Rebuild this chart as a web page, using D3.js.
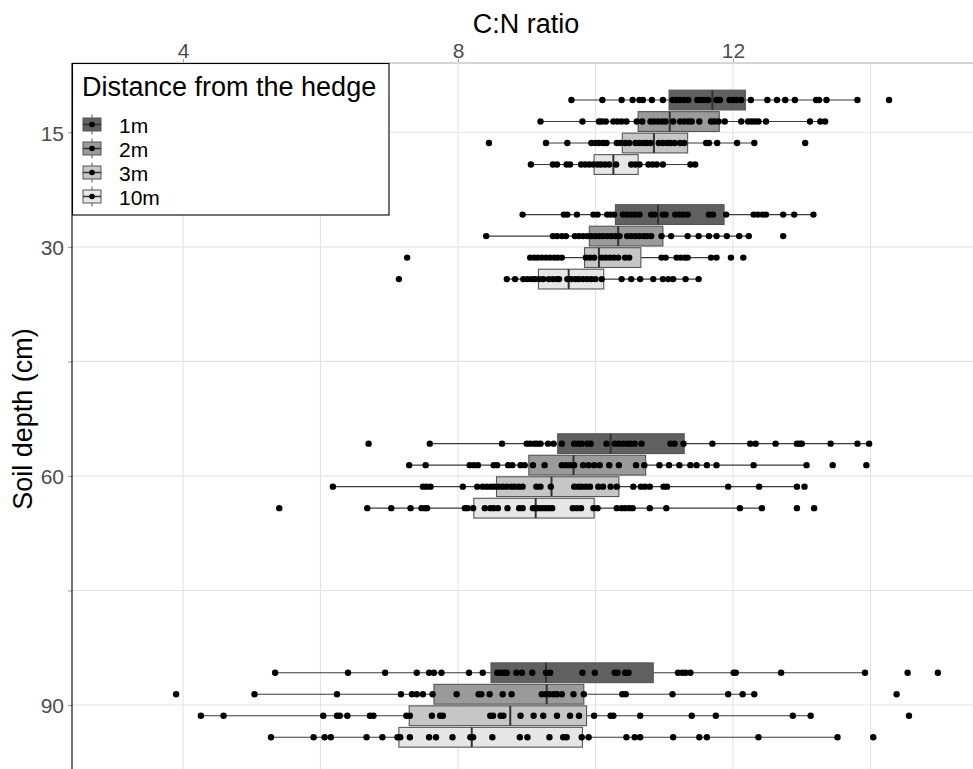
<!DOCTYPE html>
<html>
<head>
<meta charset="utf-8">
<script src="https://cdn.jsdelivr.net/npm/d3@7"></script>
<style>
    body { margin: 0; background: #fff; }
    text { font-family: "Liberation Sans", Arial, sans-serif; }
</style>
</head>
<body>
<div id="chart"></div>
<script>

// soil depths (cm) and distance groups
var depths = [15, 30, 60, 90];
var distances = ["1m", "2m", "3m", "10m"];
var fills = ["#606060", "#9a9a9a", "#c6c6c6", "#e6e6e6"];

// box statistics, rows = depth, columns = distance
var q1 = [[11.07, 10.62, 10.39, 9.98], [10.29, 9.91, 9.84, 9.17], [9.45, 9.03, 8.56, 8.23], [8.48, 7.65, 7.29, 7.14]];
var medians = [[11.70, 11.08, 10.85, 10.26], [10.91, 10.33, 10.05, 9.61], [10.22, 9.68, 9.36, 9.13], [9.28, 9.29, 8.76, 8.20]];
var q3 = [[12.18, 11.80, 11.34, 10.62], [11.87, 10.98, 10.66, 10.12], [11.29, 10.73, 10.34, 9.98], [10.84, 9.83, 9.87, 9.81]];
var whiskerLo = [[9.65, 9.20, 9.28, 9.06], [8.94, 8.41, 9.05, 8.71], [7.59, 7.29, 6.18, 6.68], [5.34, 5.04, 4.26, 5.28]];
var whiskerHi = [[13.81, 13.34, 12.31, 11.45], [13.17, 12.23, 11.76, 11.50], [13.98, 13.07, 12.93, 12.42], [13.92, 12.31, 13.13, 13.52]];

// raw C:N observations per depth, one list per distance
var pts15 = [
    [9.65, 10.10, 10.38, 10.54, 10.64, 10.69, 10.82, 10.98, 11.12, 11.18, 11.23, 11.29, 11.35, 11.48, 11.53, 11.58, 11.64, 11.76, 11.81, 11.95, 12.00, 12.05, 12.12, 12.26, 12.50, 12.64, 12.76, 12.90, 13.21, 13.25, 13.36, 13.81, 14.27],
    [9.20, 9.81, 10.05, 10.09, 10.15, 10.26, 10.32, 10.38, 10.45, 10.60, 10.68, 10.80, 10.85, 10.91, 10.97, 11.02, 11.13, 11.23, 11.29, 11.35, 11.40, 11.51, 11.68, 11.73, 11.79, 11.88, 12.12, 12.22, 12.27, 12.32, 12.37, 12.48, 13.12, 13.27, 13.34],
    [8.45, 9.28, 9.59, 9.94, 10.00, 10.05, 10.11, 10.16, 10.31, 10.36, 10.43, 10.49, 10.58, 10.64, 10.70, 10.74, 10.80, 10.92, 10.98, 11.04, 11.09, 11.15, 11.23, 11.29, 11.61, 11.65, 11.77, 12.06, 12.31, 13.05],
    [9.06, 9.38, 9.44, 9.58, 9.63, 9.79, 9.85, 9.91, 9.97, 10.03, 10.08, 10.14, 10.20, 10.30, 10.52, 10.58, 10.64, 10.77, 10.83, 10.89, 10.98, 11.38, 11.45]
];
var pts30 = [
    [8.94, 9.54, 9.59, 9.73, 9.97, 10.03, 10.17, 10.22, 10.27, 10.40, 10.46, 10.52, 10.58, 10.64, 10.81, 10.86, 10.98, 11.02, 11.16, 11.22, 11.28, 11.34, 11.65, 11.71, 11.90, 12.30, 12.36, 12.43, 12.48, 12.73, 12.89, 13.17],
    [8.41, 9.38, 9.44, 9.51, 9.57, 9.70, 9.76, 9.82, 9.88, 9.94, 10.00, 10.06, 10.11, 10.17, 10.23, 10.29, 10.35, 10.46, 10.52, 10.58, 10.64, 10.70, 10.75, 10.81, 10.96, 11.10, 11.34, 11.50, 11.65, 11.76, 11.91, 12.09, 12.23, 12.73],
    [7.26, 9.05, 9.11, 9.16, 9.22, 9.28, 9.34, 9.40, 9.45, 9.51, 9.86, 9.92, 9.98, 10.09, 10.15, 10.21, 10.27, 10.33, 10.43, 10.49, 10.96, 11.02, 11.18, 11.24, 11.30, 11.34, 11.68, 11.76, 11.97, 12.15],
    [7.14, 8.71, 8.83, 8.95, 9.01, 9.07, 9.12, 9.18, 9.24, 9.32, 9.38, 9.44, 9.47, 9.59, 9.65, 9.71, 9.76, 9.82, 9.88, 9.94, 10.00, 10.09, 10.38, 10.52, 10.65, 10.84, 10.98, 11.06, 11.13, 11.31, 11.50]
];
var pts60 = [
    [6.70, 7.59, 8.64, 9.00, 9.05, 9.11, 9.15, 9.20, 9.31, 9.39, 9.51, 9.69, 9.75, 9.80, 9.88, 9.93, 10.16, 10.28, 10.34, 10.40, 10.46, 10.51, 10.57, 10.67, 11.09, 11.15, 11.28, 11.70, 12.25, 12.33, 12.62, 12.93, 12.97, 13.00, 13.42, 13.81, 13.98],
    [7.29, 7.53, 8.17, 8.23, 8.29, 8.52, 8.57, 8.73, 8.79, 8.91, 8.97, 9.09, 9.26, 9.51, 9.57, 9.63, 9.69, 9.82, 9.90, 9.98, 10.06, 10.20, 10.34, 10.59, 10.71, 10.93, 11.07, 11.22, 11.38, 11.47, 11.62, 11.76, 12.30, 13.07, 13.45, 13.94],
    [6.18, 7.49, 7.54, 7.60, 8.07, 8.28, 8.36, 8.42, 8.48, 8.53, 8.59, 8.65, 8.71, 8.77, 8.82, 8.88, 8.94, 9.14, 9.20, 9.35, 9.69, 9.75, 9.80, 9.86, 9.92, 10.04, 10.11, 10.22, 10.31, 10.55, 10.66, 10.72, 10.79, 10.99, 11.04, 11.93, 12.38, 12.93, 13.04],
    [5.40, 6.68, 7.03, 7.31, 7.47, 7.52, 7.55, 8.10, 8.14, 8.22, 8.39, 8.47, 8.52, 8.58, 8.72, 8.89, 8.94, 9.09, 9.13, 9.17, 9.22, 9.27, 9.32, 9.37, 9.67, 9.73, 9.79, 9.97, 10.03, 10.31, 10.38, 10.43, 10.49, 10.54, 10.79, 11.03, 12.10, 12.42, 12.93, 13.18]
];
var pts90 = [
    [5.34, 6.40, 6.94, 7.40, 7.58, 7.65, 7.76, 8.16, 8.36, 8.57, 8.62, 8.67, 8.71, 8.85, 8.93, 9.08, 9.28, 9.34, 9.81, 9.99, 10.28, 10.32, 10.43, 10.48, 11.20, 11.26, 11.31, 11.38, 12.01, 12.04, 12.70, 13.92, 14.54, 14.98],
    [3.90, 5.04, 6.24, 7.17, 7.33, 7.40, 7.49, 7.63, 7.98, 8.30, 8.34, 8.46, 8.65, 8.78, 9.22, 9.28, 9.33, 9.39, 9.44, 9.51, 9.68, 9.83, 10.39, 10.44, 11.12, 11.93, 12.14, 12.31, 14.38],
    [4.26, 4.59, 6.04, 6.24, 6.28, 6.39, 6.72, 6.77, 7.25, 7.30, 7.62, 7.74, 7.78, 8.47, 8.51, 8.62, 8.66, 8.91, 9.10, 9.24, 9.44, 9.63, 9.76, 9.98, 10.22, 10.26, 10.65, 11.40, 11.75, 12.87, 13.13, 14.56],
    [5.28, 5.90, 6.06, 6.15, 6.67, 6.90, 7.12, 7.16, 7.30, 7.58, 7.68, 7.92, 8.18, 8.22, 8.50, 8.90, 9.01, 9.33, 9.53, 9.58, 9.80, 9.90, 10.45, 10.57, 10.65, 11.13, 11.51, 11.62, 12.37, 13.52, 14.04]
];
var allPoints = [pts15, pts30, pts60, pts90];

var xTicks = [4, 8, 12];
var xGrid = [4, 6, 8, 10, 12, 14];
var yTicks = [15, 30, 45, 60, 75, 90];
var yLabelled = [15, 30, 60, 90];

var width = 973, height = 769;
var panel = { left: 72, top: 63, right: 973, bottom: 769 };

var svg = d3.select("#chart")
    .append("svg")
    .attr("width", width)
    .attr("height", height);

var x = d3.scaleLinear().domain([4, 12]).range([183, 733]);
var y = d3.scaleLinear().domain([15, 90]).range([132.3, 705]);

// dodge the four distance groups around each depth
var dodge = d3.scaleBand()
    .domain(distances)
    .range([-43, 43])
    .paddingInner(0.08)
    .paddingOuter(0.04);

// grid
var grid = svg.append("g").attr("class", "grid");

grid.selectAll(".vgrid")
    .data(xGrid)
    .enter().append("line")
    .attr("x1", function(d) { return x(d); })
    .attr("x2", function(d) { return x(d); })
    .attr("y1", panel.top)
    .attr("y2", panel.bottom)
    .attr("stroke", "#e3e3e3")
    .attr("stroke-width", 1.1);

grid.selectAll(".hgrid")
    .data(yTicks)
    .enter().append("line")
    .attr("x1", panel.left)
    .attr("x2", panel.right)
    .attr("y1", function(d) { return y(d); })
    .attr("y2", function(d) { return y(d); })
    .attr("stroke", "#e3e3e3")
    .attr("stroke-width", 1.1);

// flatten into one record per box
var boxes = [];
depths.forEach(function(dep, i) {
    distances.forEach(function(dist, j) {
        boxes.push({
            depth: dep, dist: dist, fill: fills[j],
            q1: q1[i][j], med: medians[i][j], q3: q3[i][j],
            lo: whiskerLo[i][j], hi: whiskerHi[i][j],
            pts: allPoints[i][j]
        });
    });
});

function cy(d) { return y(d.depth) + dodge(d.dist) + dodge.bandwidth() / 2; }

var box = svg.selectAll(".box")
    .data(boxes)
    .enter().append("g")
    .attr("class", "box");

// whiskers
box.append("line")
    .attr("x1", function(d) { return x(d.lo); })
    .attr("x2", function(d) { return x(d.q1); })
    .attr("y1", cy).attr("y2", cy)
    .attr("stroke", "#3a3a3a").attr("stroke-width", 1.1);

box.append("line")
    .attr("x1", function(d) { return x(d.q3); })
    .attr("x2", function(d) { return x(d.hi); })
    .attr("y1", cy).attr("y2", cy)
    .attr("stroke", "#3a3a3a").attr("stroke-width", 1.1);

box.append("rect")
    .attr("x", function(d) { return x(d.q1); })
    .attr("width", function(d) { return x(d.q3) - x(d.q1); })
    .attr("y", function(d) { return y(d.depth) + dodge(d.dist); })
    .attr("height", dodge.bandwidth())
    .attr("fill", function(d) { return d.fill; })
    .attr("stroke", "#555")
    .attr("stroke-width", 1.1);

box.append("line")
    .attr("x1", function(d) { return x(d.med); })
    .attr("x2", function(d) { return x(d.med); })
    .attr("y1", function(d) { return y(d.depth) + dodge(d.dist); })
    .attr("y2", function(d) { return y(d.depth) + dodge(d.dist) + dodge.bandwidth(); })
    .attr("stroke", "#333")
    .attr("stroke-width", 2);

// observations on top
box.selectAll("circle")
    .data(function(d) { return d.pts.map(function(v) { return { v: v, b: d }; }); })
    .enter().append("circle")
    .attr("cx", function(p) { return x(p.v); })
    .attr("cy", function(p) { return cy(p.b); })
    .attr("r", 3.2)
    .attr("fill", "#000");

// axes
var xAxis = svg.append("g")
    .attr("transform", "translate(0," + panel.top + ")")
    .call(d3.axisTop(x).tickValues(xTicks).tickSize(4).tickPadding(1.5));

var yAxis = svg.append("g")
    .attr("transform", "translate(" + panel.left + ",0)")
    .call(d3.axisLeft(y).tickValues(yTicks).tickSize(4).tickPadding(4)
        .tickFormat(function(d) { return yLabelled.indexOf(d) >= 0 ? d : ""; }));

[xAxis, yAxis].forEach(function(a) {
    a.select(".domain").remove();
    a.selectAll(".tick line").attr("stroke", "#a0a0a0").attr("stroke-width", 1.1);
    a.selectAll(".tick text")
        .attr("fill", "#4d4d4d")
        .style("font-size", "21px")
        .style("font-family", "'Liberation Sans', Arial, sans-serif");
});
yAxis.selectAll(".tick text").attr("dy", "0.37em");

svg.append("line")
    .attr("x1", panel.left).attr("x2", panel.right)
    .attr("y1", panel.top).attr("y2", panel.top)
    .attr("stroke", "#d6d6d6").attr("stroke-width", 2);

svg.append("line")
    .attr("x1", panel.left).attr("x2", panel.left)
    .attr("y1", panel.top).attr("y2", panel.bottom)
    .attr("stroke", "#000").attr("stroke-width", 1.1);

// axis titles
svg.append("text")
    .attr("x", 526).attr("y", 33)
    .attr("text-anchor", "middle")
    .style("font-size", "27px")
    .text("C:N ratio");

svg.append("text")
    .attr("transform", "translate(32,419)rotate(-90)")
    .attr("text-anchor", "middle")
    .style("font-size", "27px")
    .text("Soil depth (cm)");

// legend
var legend = svg.append("g").attr("class", "legend");

legend.append("rect")
    .attr("x", 72.5).attr("y", 63.5)
    .attr("width", 316.5).attr("height", 151.5)
    .attr("fill", "#fff")
    .attr("stroke", "#000")
    .attr("stroke-width", 1.1);

legend.append("text")
    .attr("x", 82).attr("y", 96)
    .style("font-size", "27px")
    .text("Distance from the hedge");

var key = legend.selectAll(".key")
    .data(distances)
    .enter().append("g")
    .attr("class", "key")
    .attr("transform", function(d, i) { return "translate(92," + (124.5 + i * 24) + ")"; });

key.append("line")
    .attr("x1", 0).attr("x2", 0).attr("y1", -10).attr("y2", 10)
    .attr("stroke", "#555").attr("stroke-width", 1);

key.append("rect")
    .attr("x", -9).attr("y", -6.5)
    .attr("width", 18).attr("height", 13)
    .attr("fill", function(d, i) { return fills[i]; })
    .attr("stroke", "#555").attr("stroke-width", 1);

key.append("line")
    .attr("x1", -9).attr("x2", 9).attr("y1", 0).attr("y2", 0)
    .attr("stroke", "#333").attr("stroke-width", 1.5);

key.append("circle")
    .attr("r", 2.8).attr("fill", "#000");

key.append("text")
    .attr("x", 27).attr("y", 8)
    .style("font-size", "21px")
    .text(function(d) { return d; });

</script>
</body>
</html>
